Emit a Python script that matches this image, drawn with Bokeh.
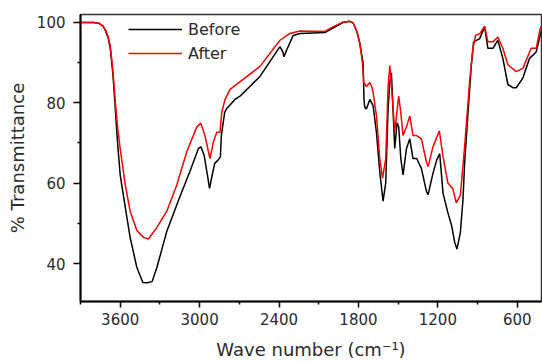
from bokeh.plotting import figure
from bokeh.models import Range1d, FixedTicker, Legend, LegendItem
from bokeh.embed import file_html
from bokeh.resources import INLINE

# ---- data ----
before_wn = [3900, 3800, 3760, 3730, 3713, 3690, 3675, 3655, 3638, 3620, 3600, 3562, 3525, 3474,
             3429, 3396, 3359, 3323, 3248, 3147, 3072, 3009, 2990, 2966, 2941, 2925, 2910, 2886,
             2861, 2843, 2836, 2811, 2798, 2733, 2695, 2544, 2393, 2370, 2363, 2343, 2293, 2242,
             2054, 1990, 1918, 1865, 1840, 1810, 1790, 1765, 1758, 1752, 1740, 1714, 1689, 1664,
             1639, 1614, 1594, 1576, 1563, 1551, 1541, 1526, 1508, 1496, 1480, 1463, 1437, 1412,
             1388, 1360, 1324, 1287, 1274, 1237, 1209, 1186, 1161, 1124, 1096, 1073, 1056, 1030,
             1010, 998, 973, 947, 930, 884, 847, 822, 784, 747, 709, 671, 634, 608, 558, 507,
             457, 427, 417]
before_t = [99.9, 99.9, 99.7, 99.0, 98.0, 96.0, 93.5, 87.0, 79.0, 70.0, 62.0, 54.0, 46.5, 39.0,
            35.3, 35.2, 35.5, 39.0, 48.0, 56.8, 63.0, 68.6, 69.0, 66.9, 62.0, 58.7, 61.2, 64.9,
            65.7, 66.5, 71.8, 77.5, 78.4, 80.8, 81.6, 86.5, 93.9, 92.5, 91.4, 93.0, 96.7, 97.2,
            97.4, 98.6, 99.9, 100.2, 99.8, 97.5, 94.8, 89.9, 80.8, 78.8, 78.4, 80.8, 79.2, 72.6,
            62.8, 55.5, 60.0, 78.4, 85.0, 87.4, 80.0, 68.6, 75.0, 74.0, 66.1, 62.0, 68.6, 71.0,
            66.1, 66.1, 63.6, 58.0, 57.1, 62.4, 65.7, 67.3, 57.5, 52.6, 49.4, 45.3, 43.6, 47.7,
            56.0, 64.9, 77.1, 89.4, 95.1, 95.9, 98.8, 93.5, 93.5, 95.5, 91.0, 84.5, 83.7, 83.7, 86.1, 91.0,
            92.6, 96.7, 98.0]

after_wn = [3900, 3800, 3760, 3730, 3713, 3690, 3675, 3655, 3638, 3620, 3600, 3562, 3525, 3474,
            3424, 3386, 3323, 3248, 3172, 3097, 3022, 2992, 2960, 2922, 2896, 2871, 2846, 2833,
            2808, 2770, 2544, 2393, 2318, 2242, 2054, 1990, 1918, 1865, 1840, 1810, 1790, 1770,
            1760, 1740, 1714, 1700, 1689, 1664, 1639, 1618, 1594, 1576, 1563, 1541, 1526, 1496,
            1480, 1463, 1437, 1412, 1388, 1360, 1324, 1287, 1274, 1237, 1189, 1161, 1124, 1086,
            1061, 1030, 998, 960, 935, 915, 884, 847, 822, 784, 747, 709, 671, 608, 558, 495,
            457, 427, 417]
after_t = [99.9, 99.9, 99.7, 99.0, 98.2, 96.3, 94.0, 88.0, 80.5, 74.0, 68.5, 59.6, 53.0, 48.2,
           46.5, 46.1, 49.0, 53.0, 59.6, 67.8, 73.9, 74.9, 71.8, 66.1, 70.2, 72.6, 72.6, 77.5,
           80.8, 83.3, 89.0, 95.5, 97.2, 97.8, 97.7, 98.9, 100.0, 100.2, 99.8, 97.5, 94.8, 89.9,
           85.0, 84.0, 85.0, 84.0, 82.5, 76.7, 66.1, 61.2, 66.0, 84.0, 89.2, 80.0, 72.7, 81.6,
           77.5, 71.8, 74.0, 76.7, 71.8, 71.8, 71.0, 65.3, 64.1, 69.0, 73.0, 66.5, 60.0, 58.5,
           55.1, 57.0, 69.0, 85.3, 93.5, 96.7, 97.1, 99.0, 95.1, 95.1, 96.3, 93.5, 89.4, 87.7, 88.5, 93.5,
           93.5, 98.4, 99.0]

x_major = [3600, 3000, 2400, 1800, 1200, 600]
x_minor = [3900, 3300, 2700, 2100, 1500, 900]
y_major = [40, 60, 80, 100]
y_minor = [50, 70, 90]

FONT = "DejaVu Sans"
TXT = "#2b2b2b"

p = figure(width=542, height=362, output_backend="svg", toolbar_location=None,
           x_range=Range1d(3900, 417), y_range=Range1d(30.56, 101.9),
           min_border_left=80, min_border_right=1, min_border_top=14, min_border_bottom=57)

p.grid.visible = False
p.background_fill_color = "white"
p.border_fill_color = "white"
p.outline_line_color = "#333333"
p.outline_line_width = 1.5

r_before = p.line(before_wn, before_t, line_color="black", line_width=1.5)
r_after = p.line(after_wn, after_t, line_color="#ff0000", line_width=1.5)

for ax in (p.xaxis[0], p.yaxis[0]):
    ax.axis_line_color = "black"
    ax.axis_line_width = 2
    ax.major_tick_line_color = "black"
    ax.minor_tick_line_color = "black"
    ax.major_tick_line_width = 1.5
    ax.minor_tick_line_width = 1.5
    ax.major_tick_in = 0
    ax.minor_tick_in = 0
    ax.major_tick_out = 6
    ax.minor_tick_out = 3
    ax.major_label_text_font = FONT
    ax.major_label_text_font_size = "15px"
    ax.major_label_text_color = TXT
    ax.axis_label_text_font = FONT
    ax.axis_label_text_font_size = "18px"
    ax.axis_label_text_font_style = "normal"
    ax.axis_label_text_color = TXT

p.xaxis[0].ticker = FixedTicker(ticks=x_major, minor_ticks=x_minor)
p.yaxis[0].ticker = FixedTicker(ticks=y_major, minor_ticks=y_minor)
p.xaxis[0].axis_label = "Wave number (cm\u207b\u00b9)"
p.yaxis[0].axis_label = "% Transmittance"
p.xaxis[0].major_label_standoff = 5
p.xaxis[0].axis_label_standoff = 11
p.yaxis[0].major_tick_out = 7
p.yaxis[0].major_label_standoff = 8
p.yaxis[0].axis_label_standoff = 6

legend = Legend(items=[LegendItem(label="Before", renderers=[r_before]),
                       LegendItem(label="After", renderers=[r_after])],
                location=(48, 238), padding=0, spacing=4, margin=0,
                glyph_width=54, glyph_height=20, label_height=20, label_standoff=6,
                label_text_font=FONT, label_text_font_size="16px", label_text_color=TXT,
                border_line_color=None, background_fill_alpha=0)
p.add_layout(legend)

open("out.html", "w").write(file_html(p, INLINE))
